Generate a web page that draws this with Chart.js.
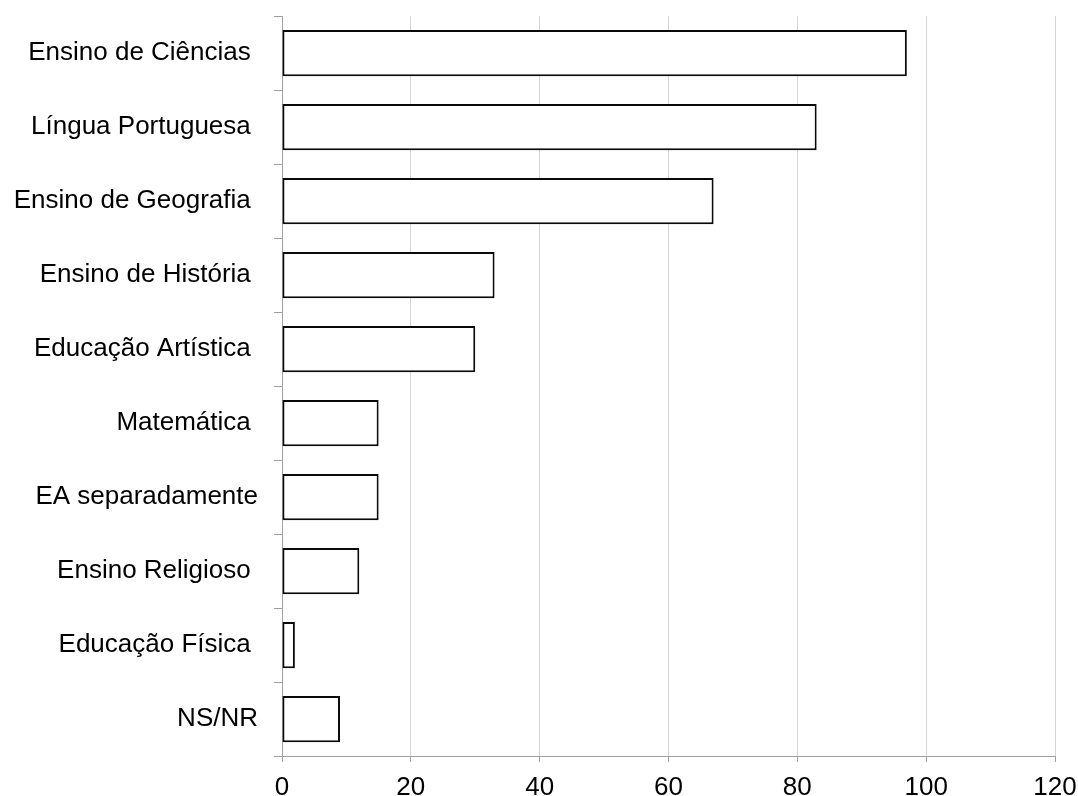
<!DOCTYPE html>
<html>
<head>
<meta charset="utf-8">
<script src="https://cdn.jsdelivr.net/npm/chart.js@4"></script>
<style>
  html, body { margin: 0; padding: 0; background: #ffffff; }
  #wrap { width: 1078px; height: 796px; }
</style>
</head>
<body>
<div id="wrap"><canvas id="chart" width="1078" height="796"></canvas></div>
<script>
// Subjects (trailing spaces are part of the labels as typed)
const categories = [
  'Ensino de Ciências ',
  'Língua Portuguesa ',
  'Ensino de Geografia ',
  'Ensino de História ',
  'Educação Artística ',
  'Matemática ',
  'EA separadamente',
  'Ensino Religioso ',
  'Educação Física ',
  'NS/NR'
];
const counts = [97, 83, 67, 33, 30, 15, 15, 12, 2, 9];

// Value axis range
const axisMin = 0;
const axisMax = 120;
const axisStep = 20;

const FONT = { family: '"Liberation Sans", Arial, sans-serif', size: 26 };

new Chart(document.getElementById('chart'), {
  type: 'bar',
  data: {
    labels: categories,
    datasets: [{
      data: counts,
      backgroundColor: '#ffffff',
      borderColor: '#0a0a0a',
      borderWidth: 2,
      borderSkipped: false,
      categoryPercentage: 1.0,
      barPercentage: 0.625
    }]
  },
  options: {
    indexAxis: 'y',
    responsive: false,
    animation: false,
    events: [],
    layout: { padding: { top: 16, right: 23, bottom: 0, left: 0 } },
    plugins: {
      legend: { display: false },
      tooltip: { enabled: false }
    },
    scales: {
      x: {
        min: axisMin,
        max: axisMax,
        ticks: {
          stepSize: axisStep,
          color: '#000000',
          font: FONT,
          padding: 10,
          maxRotation: 0
        },
        grid: {
          color: '#d4d4d4',
          tickColor: '#a0a0a0',
          tickLength: 6,
          lineWidth: 1
        },
        border: { color: '#a0a0a0', width: 1 },
        afterFit(scale) {
          scale.height = 40;
          scale.paddingLeft = 0;
          scale.paddingRight = 0;
        }
      },
      y: {
        ticks: {
          color: '#000000',
          font: FONT,
          padding: 16,
          autoSkip: false
        },
        grid: {
          offset: true,
          drawOnChartArea: false,
          color: '#a0a0a0',
          tickLength: 8
        },
        border: { color: '#a0a0a0', width: 1 },
        afterFit(scale) {
          scale.width = 282;
          scale.paddingTop = 0;
          scale.paddingBottom = 0;
        }
      }
    }
  }
});
</script>
</body>
</html>
